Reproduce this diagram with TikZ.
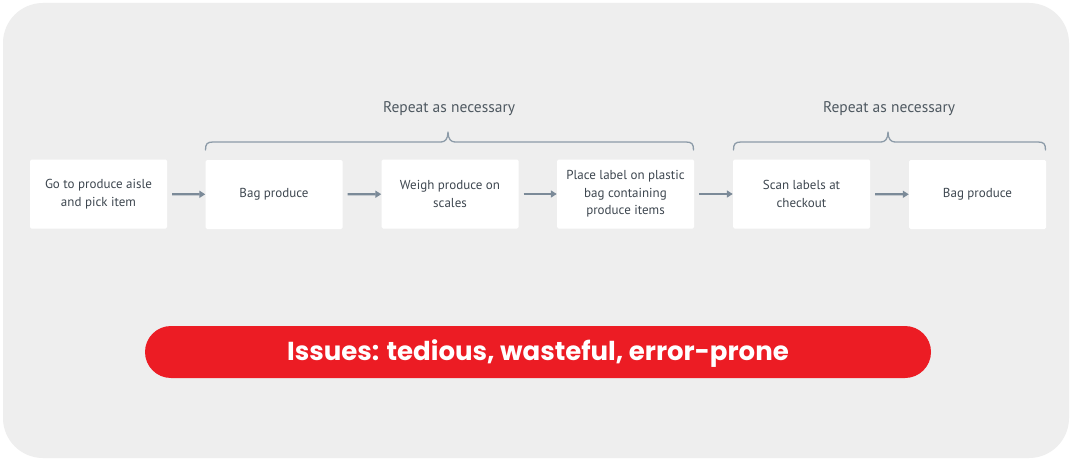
\documentclass[tikz,border=0pt]{standalone}
\usepackage{fontspec}
\setmainfont{PT Sans}
\newfontfamily\popfont{Poppins}
\usetikzlibrary{arrows.meta}
\definecolor{bggrey}{HTML}{EEEEEE}
\definecolor{txtgrey}{HTML}{3E4750}
\definecolor{lblgrey}{HTML}{4F5961}
\definecolor{arrgrey}{HTML}{7B8A98}
\definecolor{brgrey}{HTML}{8C9BA8}
\definecolor{pillred}{HTML}{EC1C24}
\tikzset{
  stepbox/.style={fill=white, draw=none, minimum width=137pt, minimum height=69pt,
    rounded corners=1.5pt, align=center, text=txtgrey,
    font=\fontsize{13}{17.5}\selectfont, inner sep=0pt},
  arr/.style={draw=arrgrey, line width=2.4pt, shorten <=5pt,
    -{Triangle[length=6pt,width=7pt]}},
  bracepath/.style={draw=brgrey, line width=1.3pt, line cap=round, line join=round},
  replbl/.style={text=lblgrey, font=\fontsize{15.5}{17}\selectfont, inner sep=0pt}
}
\begin{document}
\begin{tikzpicture}[x=1pt,y=-1pt]
\useasboundingbox (0,0) rectangle (1072,460);
\fill[white] (0,0) rectangle (1072,460);
\fill[bggrey, rounded corners=40pt] (3,3) rectangle (1069,458);

\node[stepbox] (b1) at (98.5,194) {Go to produce aisle\\and pick item};
\node[stepbox] (b2) at (274,194.5) {Bag produce};
\node[stepbox] (b3) at (450,194) {Weigh produce on\\scales};
\node[stepbox] (b4) at (625.5,194) {Place label on plastic\\bag containing\\produce items};
\node[stepbox] (b5) at (801.5,194) {Scan labels at\\checkout};
\node[stepbox] (b6) at (977.5,194.5) {Bag produce};

\draw[arr] (b1) -- (b2);
\draw[arr] (b2) -- (b3);
\draw[arr] (b3) -- (b4);
\draw[arr] (b4) -- (b5);
\draw[arr] (b5) -- (b6);

% brace 1
\coordinate (t1) at (448,132);
\draw[bracepath] (205.5,150) .. controls (205.5,144) and (207,142) .. (213,142)
  -- (441,142) .. controls (445,142) and (448,139) .. (t1)
  .. controls (448,139) and (451,142) .. (455,142)
  -- (686,142) .. controls (692,142) and (693.5,144) .. (693.5,150);
\node[replbl] (r1) at (449,109) {Repeat as necessary};

% brace 2
\coordinate (t2) at (888,132);
\draw[bracepath] (733.5,150) .. controls (733.5,144) and (735,142) .. (741,142)
  -- (881,142) .. controls (885,142) and (888,139) .. (t2)
  .. controls (888,139) and (891,142) .. (895,142)
  -- (1038,142) .. controls (1044,142) and (1045.5,144) .. (1045.5,150);
\node[replbl] (r2) at (889,109) {Repeat as necessary};

\node[fill=pillred, rounded corners=26pt, minimum width=786pt, minimum height=52pt,
  inner sep=0pt] (pill) at (538,352) {};
\node[text=white, font=\popfont\bfseries\fontsize{26}{28}\selectfont, inner sep=0pt]
  (pilltext) at (538,354) {Issues: tedious, wasteful, error-prone};
\end{tikzpicture}
\end{document}
